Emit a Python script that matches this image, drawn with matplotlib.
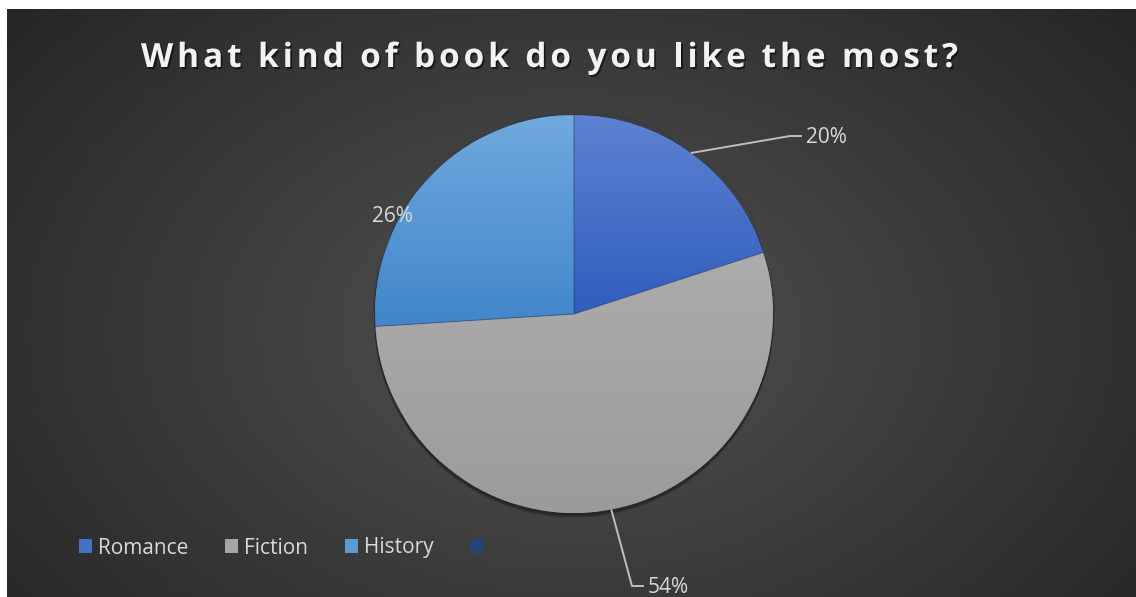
import numpy as np
import matplotlib
matplotlib.use("Agg")
import matplotlib.pyplot as plt
import matplotlib.patheffects as pe
from matplotlib.patches import Patch, Circle
from matplotlib.colors import to_rgb

# data
categories = ["Romance", "Fiction", "History"]
values = [20, 54, 26]
legend_labels = ["Romance", "Fiction", "History", ""]
title = "What kind of book do you like the most?"

W, H = 1136, 597
FONT = "Open Sans"
TXT = "#d9d9d9"

# gradient (top, bottom) per slice, and legend swatch colours
slice_grad = [("#5d82d2", "#2f5ebd"), ("#acacac", "#9b9b9b"), ("#70a9de", "#4186c9")]
legend_colors = ["#4472c4", "#a5a5a5", "#5b9bd5", "#264478"]

fig = plt.figure(figsize=(W / 100, H / 100), dpi=100, facecolor="white")

# background: dark radial gradient, white margin at top and left
bg = fig.add_axes([7 / W, 0, (W - 7) / W, (H - 9) / H])
bg.axis("off")
yy, xx = np.mgrid[9:H, 7:W]
t = np.sqrt(((xx - 570) / 760.0) ** 2 + ((yy - 330) / 520.0) ** 2)
t = np.clip(t, 0, 1)
c0, c1 = np.array(to_rgb("#525252")), np.array(to_rgb("#242424"))
img = c0[None, None, :] * (1 - t[..., None]) + c1[None, None, :] * t[..., None]
bg.imshow(img, aspect="auto", interpolation="bilinear")

# main axes in pixel coordinates (y up)
ax = fig.add_axes([0, 0, 1, 1], facecolor="none")
cx, cy, r = 574, H - 314, 199

# soft shadow under the pie
for off, a in [(4, 0.10), (3, 0.15), (2, 0.2)]:
    ax.add_patch(Circle((cx, cy - off), r + 1, color="black", alpha=a, lw=0, zorder=1))

wedges, _ = ax.pie(values, startangle=90, counterclock=False, center=(cx, cy), radius=r,
                   colors=[g[0] for g in slice_grad],
                   wedgeprops=dict(linewidth=0.8, edgecolor=(0.15, 0.2, 0.35, 0.35)))

for w, (top, bot) in zip(wedges, slice_grad):
    w.set_zorder(2)
    bb = w.get_path().get_extents()
    ct, cb = np.array(to_rgb(top)), np.array(to_rgb(bot))
    s = np.linspace(0, 1, 256)[:, None, None]
    grad = ct[None, None, :] * (1 - s) + cb[None, None, :] * s
    im = ax.imshow(grad, extent=(bb.x0, bb.x1, bb.y0, bb.y1), aspect="auto",
                   interpolation="bilinear", zorder=2.5)
    im.set_clip_path(w)

# separator lines on top of gradients
for w in wedges:
    ax.add_patch(plt.Polygon(w.get_path().vertices, closed=True, fill=False,
                             lw=0.7, ec=(0.1, 0.15, 0.3, 0.25), zorder=3))

# data labels
def mid_point(w):
    ang = np.deg2rad((w.theta1 + w.theta2) / 2)
    return cx + r * np.cos(ang), cy + r * np.sin(ang)

pct = [f"{v}%" for v in values]
label_pos = [(806, H - 143), (648, H - 593), (372, H - 222)]
leader = [True, True, False]
for w, p, (lx, ly), lead in zip(wedges, pct, label_pos, leader):
    ax.text(lx, ly, p, ha="left", va="baseline", color=TXT, fontsize=15,
            family=FONT, zorder=5)
    if lead:
        px, py = mid_point(w)
        ym = ly + 7
        ax.plot([px, lx - 16, lx - 4], [py, ym, ym], color="#bfbfbf", lw=1.4,
                solid_capstyle="butt", zorder=4)

ax.set_xlim(0, W)
ax.set_ylim(0, H)
ax.set_aspect("auto")
ax.axis("off")

# legend
handles = [Patch(facecolor=c, edgecolor="none") for c in legend_colors]
leg = ax.legend(handles, legend_labels, loc="center left", ncol=4,
                bbox_to_anchor=(79 / W, (H - 548) / H), bbox_transform=fig.transFigure,
                frameon=False, borderpad=0, borderaxespad=0,
                handlelength=0.62, handleheight=0.62, handletextpad=0.3,
                columnspacing=1.75, prop={"family": FONT, "size": 15})
for tx in leg.get_texts():
    tx.set_color(TXT)

# title with letter spacing
def spaced_text(s, x0, x1, ybase, **kw):
    rend = fig.canvas.get_renderer()

    def width(txt):
        tt = fig.text(0, 0, txt, **kw)
        bw = tt.get_window_extent(rend).width
        tt.remove()
        return bw

    bar = width("|")
    offs = [0 if i == 0 else width(s[:i] + "|") - bar for i in range(len(s))]
    total = width(s)
    sp = ((x1 - x0) - total) / (len(s) - 1)
    for i, ch in enumerate(s):
        if ch != " ":
            fig.text((x0 + offs[i] + i * sp) / W, ybase / H, ch, ha="left",
                     va="baseline", **kw)

spaced_text(title, 141, 958, H - 67, family=FONT, fontweight="bold", fontsize=24,
            color="#f2f2f2",
            path_effects=[pe.withSimplePatchShadow(offset=(1.2, -1.5),
                                                   shadow_rgbFace="black", alpha=0.55)])

fig.savefig("out.png", dpi=100, facecolor=fig.get_facecolor())
